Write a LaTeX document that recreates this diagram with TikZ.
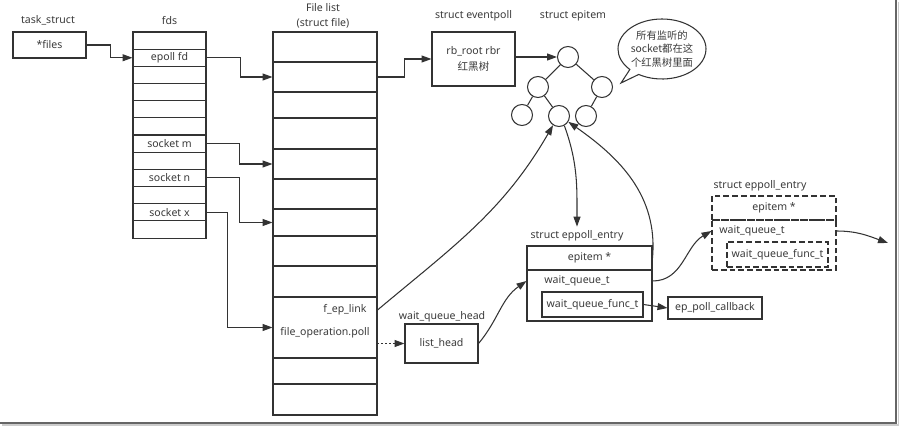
\documentclass[tikz,border=0pt]{standalone}
\usepackage{fontspec}
\setmainfont{Noto Sans}
\newfontfamily\cjk{Noto Sans CJK SC}
\usepackage{xcolor}
\usepackage{tikz}
\usetikzlibrary{arrows.meta,positioning,calc,shapes.geometric,shapes.callouts}
\definecolor{lnk}{HTML}{333333}
\definecolor{txt}{HTML}{3A3A3A}
\newcommand{\pxu}{0.03cm}
\tikzset{
  every node/.append style={text=txt,font=\fontsize{9}{11}\selectfont},
  cellbox/.style 2 args={draw=lnk,line width=0.9pt,inner sep=0pt,
    minimum width=(#1)*\pxu,minimum height=(#2)*\pxu},
  dashbox/.style 2 args={cellbox={#1}{#2},dash pattern=on 5pt off 2.5pt},
  rbnode/.style={circle,draw=lnk,line width=0.9pt,inner sep=0pt,
    minimum size=21*\pxu},
  arr/.style={draw=lnk,line width=0.9pt,-{Triangle[length=8.5pt,width=6pt]}},
  lnkline/.style={draw=lnk,line width=0.9pt},
}

\begin{document}
\begin{tikzpicture}[x=\pxu,y=-\pxu]
\useasboundingbox (0,0) rectangle (900,426);
% page edge with its shadow
\draw[black!60,line width=1pt] (896,0) -- (896,423) -- (0,423);
\draw[black!20,line width=1.6pt] (898.5,2) -- (898.5,425) -- (2,425);

% task_struct and fds
\node (tlabel) at (48,20) {task\_struct};
\node[cellbox={73}{26}] (files) at (49.5,45) {*files};
\node (fdlabel) at (169.5,21) {fds};
\foreach \i/\t in {0/{},1/epoll fd,2/{},3/{},4/{},5/{},6/socket m,7/{},
                   8/socket n,9/{},10/socket x,11/{}}
  \node[cellbox={73}{17.17}] (fds-\i) at (169.5,{32+17.17*(\i+0.5)}) {\t};

% file list
\node[align=center,font=\fontsize{9}{13}\selectfont] (fllabel) at (323,15.5)
  {File list\\(struct file)};
\foreach \a/\b [count=\i] in {32/62,62/92,92/118,118/149,149/179,179/209,
                              209/236,236/266,266/297,297/358,358/384,384/415}
  \node[cellbox={104}{\b-\a}] (fl-\i) at (325,{(\a+\b)/2}) {};
\node (eplink) at (345,310) {f\_ep\_link};
\node (fop) at (325,333) {file\_operation.poll};

% eventpoll and the red-black tree
\node (eplabel) at (473.5,16) {struct eventpoll};
\node[cellbox={83}{54},align=center,font=\fontsize{9}{13}\selectfont]
  (ep) at (473.5,59) {rb\_root rbr\\{\cjk 红黑树}};
\node (eilabel) at (573,16) {struct epitem};
\node[rbnode] (root) at (568,57) {};
\node[rbnode] (lc) at (538,87) {};
\node[rbnode] (rc) at (602,87) {};
\node[rbnode] (ll) at (522,115) {};
\node[rbnode] (mid) at (559,116) {};
\node[rbnode] (rl) at (586,116) {};
\draw[lnkline] (root) -- (lc) (root) -- (rc) (lc) -- (ll) (lc) -- (mid)
  (rc) -- (rl);
\coordinate (tip) at (621,83);
\node[ellipse callout,draw=lnk,line width=0.9pt,callout absolute pointer=(tip),
  minimum width=82*\pxu,minimum height=60*\pxu,inner sep=0pt,align=center,
  font=\cjk\fontsize{8.8}{11.5}\selectfont] (note) at (662,49)
  {所有监听的\\socket都在这\\个红黑树里面};

% wait queue head
\node (wqlabel) at (442,317) {wait\_queue\_head};
\node[cellbox={73}{39}] (lh) at (441.5,343.5) {list\_head};

% eppoll_entry
\node (elabel) at (577,236) {struct eppoll\_entry};
\node[cellbox={125}{24}] (ehead) at (589.5,258) {epitem *};
\node[cellbox={125}{51}] (ebody) at (589.5,295.5) {};
\node (ewqt) at (577,281) {wait\_queue\_t};
\node[cellbox={101}{25}] (efunc) at (592.5,304.5) {wait\_queue\_func\_t};
\node[cellbox={94}{22}] (cb) at (715,308) {ep\_poll\_callback};

% the next eppoll_entry, dashed
\node (dlabel) at (760,186) {struct eppoll\_entry};
\node[dashbox={124}{24}] (dhead) at (774,208) {epitem *};
\node[dashbox={124}{50}] (dbody) at (774,245) {};
\node (dwqt) at (752,231) {wait\_queue\_t};
\node[dashbox={101}{25}] (dfunc) at (777.5,254.5) {wait\_queue\_func\_t};
\coordinate (tail) at (888,243);

% connectors
\draw[arr] (files.east) -- ++(24,0) |- (fds-1.west);
\draw[arr] (fds-1.east) -- ++(34,0) |- (fl-2.west);
\draw[arr] (fds-6.east) -- ++(33,0) |- (fl-5.west);
\draw[arr] (fds-8.east) -- ++(33,0) |- (fl-7.west);
\draw[arr] (fds-10.east) -- ++(21,0) |- (fl-10.west);
\draw[arr] (fl-2.east) -- ++(27,0) |- (ep.west);
\draw[arr] (ep.east |- root) -- (root.west);
\draw[arr] (eplink -| fl-10.east) to[out=40,in=-120] (mid.-123);
\draw[arr] (mid.-61) to[out=-70,in=90] (elabel.north);
\draw[arr] (ehead.east) to[out=85,in=-35] (mid.-32);
\draw[arr,dash pattern=on 1.3pt off 2pt] (fl-10.east |- lh) -- (lh.west);
\draw[arr] (lh.east) to[out=50,in=-145] (ewqt -| ebody.west);
\draw[arr] (efunc.east) -- (cb.west);
\draw[arr] (ewqt -| ebody.east) to[out=0,in=-150] (dwqt -| dbody.west);
\draw[arr] (dwqt -| dbody.east) to[out=0,in=160] (tail);
\end{tikzpicture}
\end{document}
